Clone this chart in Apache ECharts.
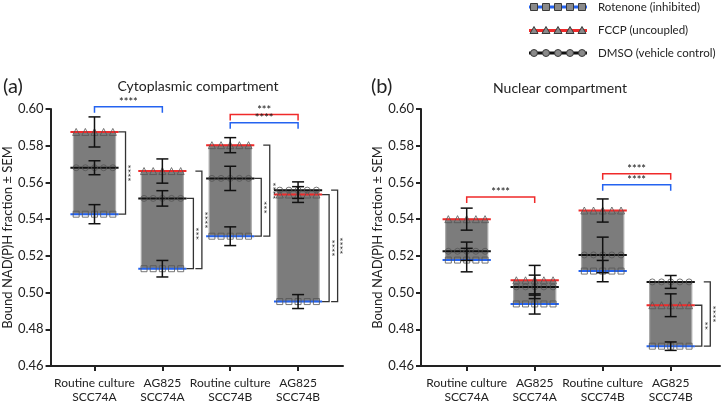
<!DOCTYPE html>
<html><head><meta charset="utf-8">
<script src="https://cdn.jsdelivr.net/npm/echarts@6/dist/echarts.min.js"></script>
<style>html,body{margin:0;padding:0;background:#fff}#c{width:723px;height:404px}</style>
</head><body><div id="c"></div>
<script>
// ---------- data ----------
const categories = ['Routine culture\nSCC74A', 'AG825\nSCC74A', 'Routine culture\nSCC74B', 'AG825\nSCC74B'];
const yTicks = [0.46, 0.48, 0.50, 0.52, 0.54, 0.56, 0.58, 0.60];
const treatmentNames = ['Rotenone (inhibited)', 'FCCP (uncoupled)', 'DMSO (vehicle control)'];
const panelTitles = ['Cytoplasmic compartment', 'Nuclear compartment'];
const panelLetters = ['(a)', '(b)'];
const yAxisName = 'Bound NAD(P)H fraction \u00b1 SEM';

// Cytoplasmic compartment
const cytoRotenone    = [0.5427, 0.5130, 0.5307, 0.4951];
const cytoRotenoneSem = [0.0052, 0.0045, 0.0051, 0.0038];
const cytoFccp        = [0.5875, 0.5662, 0.5803, 0.5534];
const cytoFccpSem     = [0.0082, 0.0066, 0.0041, 0.0043];
const cytoDmso        = [0.5680, 0.5513, 0.5622, 0.5558];
const cytoDmsoSem     = [0.0038, 0.0042, 0.0066, 0.0045];

// Nuclear compartment
const nucRotenone    = [0.5177, 0.4938, 0.5117, 0.4708];
const nucRotenoneSem = [0.0064, 0.0055, 0.0058, 0.0023];
const nucFccp        = [0.5400, 0.5067, 0.5447, 0.4931];
const nucFccpSem     = [0.0060, 0.0081, 0.0063, 0.0062];
const nucDmso        = [0.5225, 0.5031, 0.5205, 0.5058];
const nucDmsoSem     = [0.0050, 0.0064, 0.0097, 0.0035];

// significance between groups: [fromCat, toCat, treatment, label, bracket height]
const cytoPairSig = [[0, 1, 'rot', '****', 0.6012], [2, 3, 'fccp', '***', 0.5970], [2, 3, 'rot', '****', 0.5925]];
const nucPairSig  = [[0, 1, 'fccp', '****', 0.5520], [2, 3, 'fccp', '****', 0.5647], [2, 3, 'rot', '****', 0.5587]];
// significance within group: [cat, fromTreatment, toTreatment, label, nesting level]
const cytoWithinSig = [[0, 'fccp', 'rot', '****', 0], [1, 'dmso', 'rot', '***', 0], [1, 'fccp', 'rot', '****', 1],
                       [2, 'dmso', 'rot', '***', 0], [2, 'fccp', 'rot', '****', 1], [3, 'fccp', 'rot', '****', 0], [3, 'dmso', 'rot', '****', 1]];
const nucWithinSig  = [[3, 'fccp', 'rot', '**', 0], [3, 'dmso', 'rot', '****', 1]];

// ---------- styles ----------
const FONT = 'Lato, "Open Sans", sans-serif';
const COLORS = { rot: '#2463f0', fccp: '#f02a2a', dmso: '#111111' };
const SYMBOLS = { rot: 'rect', fccp: 'triangle', dmso: 'circle' };
const BAR_HALF = 0.31, LINE_HALF = 0.355;
const MARKER_OFFSETS = [-0.27, -0.135, 0, 0.135, 0.27];

const panels = [
  { rot: cytoRotenone, rotSem: cytoRotenoneSem, fccp: cytoFccp, fccpSem: cytoFccpSem, dmso: cytoDmso, dmsoSem: cytoDmsoSem, pair: cytoPairSig, within: cytoWithinSig },
  { rot: nucRotenone, rotSem: nucRotenoneSem, fccp: nucFccp, fccpSem: nucFccpSem, dmso: nucDmso, dmsoSem: nucDmsoSem, pair: nucPairSig, within: nucWithinSig }
];

const grids = [
  { left: 49, right: 380, top: 109, bottom: 35 },
  { left: 421, right: 3, top: 109, bottom: 35 }
];
const xRanges = [[-0.647, 3.662], [-0.672, 3.725]];

const xAxes = [], yAxes = [], series = [];
panels.forEach((p, k) => {
  xAxes.push({
    gridIndex: k, type: 'value', min: xRanges[k][0], max: xRanges[k][1],
    splitLine: { show: false },
    axisLine: { onZero: false, lineStyle: { color: '#222', width: 2 } },
    axisTick: { customValues: [0, 1, 2, 3], length: 5, lineStyle: { color: '#222', width: 2 } },
    axisLabel: { customValues: [0, 1, 2, 3], formatter: v => categories[Math.round(v)], fontFamily: FONT, fontSize: 12, lineHeight: 14, color: '#222', margin: 10 }
  });
  yAxes.push({
    gridIndex: k, type: 'value', min: yTicks[0], max: yTicks[yTicks.length - 1],
    name: yAxisName, nameLocation: 'middle', nameGap: 33,
    nameTextStyle: { fontFamily: FONT, fontSize: 13, color: '#222' },
    splitLine: { show: false },
    axisLine: { show: true, onZero: false, lineStyle: { color: '#222', width: 2 } },
    axisTick: { show: true, customValues: yTicks, length: 5, lineStyle: { color: '#222', width: 2 } },
    axisLabel: { customValues: yTicks, formatter: v => v.toFixed(2), fontFamily: FONT, fontSize: 13, color: '#222', margin: 7 }
  });

  const vals = { rot: p.rot, fccp: p.fccp, dmso: p.dmso };
  const sems = { rot: p.rotSem, fccp: p.fccpSem, dmso: p.dmsoSem };

  // floating grey boxes (range of the three treatments)
  series.push({
    type: 'custom', xAxisIndex: k, yAxisIndex: k, z: 1, silent: true,
    data: categories.map((c, i) => [i, Math.min(p.rot[i], p.fccp[i], p.dmso[i]), Math.max(p.rot[i], p.fccp[i], p.dmso[i])]),
    renderItem(params, api) {
      const x = api.value(0);
      const a = api.coord([x - BAR_HALF, api.value(2)]);
      const b = api.coord([x + BAR_HALF, api.value(1)]);
      return { type: 'rect', shape: { x: a[0], y: a[1], width: b[0] - a[0], height: b[1] - a[1] },
        style: { fill: '#7c7c7c', stroke: '#ababab', lineWidth: 1.2 } };
    }
  });

  ['rot', 'fccp', 'dmso'].forEach((t, ti) => {
    series.push({
      type: 'custom', name: treatmentNames[ti], xAxisIndex: k, yAxisIndex: k, z: 2, silent: true,
      data: vals[t].map((v, i) => [i, v]),
      renderItem(params, api) {
        const x = api.value(0), v = api.value(1);
        const a = api.coord([x - LINE_HALF, v]), b = api.coord([x + LINE_HALF, v]);
        return { type: 'line', shape: { x1: a[0], y1: a[1], x2: b[0], y2: b[1] }, style: { stroke: COLORS[t], lineWidth: 2 } };
      }
    });
    const md = [];
    vals[t].forEach((v, i) => MARKER_OFFSETS.forEach(o => md.push([i + o, v])));
    series.push({
      type: 'scatter', xAxisIndex: k, yAxisIndex: k, z: 3, silent: true,
      symbol: SYMBOLS[t], symbolSize: t === 'fccp' ? 7 : 6,
      itemStyle: { color: 'rgba(0,0,0,0)', borderColor: '#555', borderWidth: 1 },
      data: md
    });
  });

  const ed = [];
  ['rot', 'fccp', 'dmso'].forEach(t => vals[t].forEach((v, i) => ed.push([i, v, sems[t][i]])));
  series.push({
    type: 'custom', xAxisIndex: k, yAxisIndex: k, z: 4, silent: true,
    data: ed,
    renderItem(params, api) {
      const x = api.value(0), v = api.value(1), s = api.value(2);
      const top = api.coord([x, v + s]), bot = api.coord([x, v - s]);
      const st = { stroke: '#111', lineWidth: 1.5 };
      return { type: 'group', children: [
        { type: 'line', shape: { x1: top[0], y1: top[1], x2: bot[0], y2: bot[1] }, style: st },
        { type: 'line', shape: { x1: top[0] - 6, y1: top[1], x2: top[0] + 6, y2: top[1] }, style: st },
        { type: 'line', shape: { x1: bot[0] - 6, y1: bot[1], x2: bot[0] + 6, y2: bot[1] }, style: st }
      ] };
    }
  });

  series.push({
    type: 'custom', xAxisIndex: k, yAxisIndex: k, z: 5, silent: true, clip: false,
    data: p.pair.map(d => [d[0], d[1], d[4]]),
    renderItem(params, api) {
      const d = p.pair[params.dataIndex];
      const a = api.coord([api.value(0), api.value(2)]), b = api.coord([api.value(1), api.value(2)]);
      const st = { stroke: COLORS[d[2]], lineWidth: 1.5, fill: null };
      return { type: 'group', children: [
        { type: 'polyline', shape: { points: [[a[0], a[1] + 6], [a[0], a[1]], [b[0], b[1]], [b[0], b[1] + 6]] }, style: st },
        { type: 'text', x: (a[0] + b[0]) / 2, y: a[1] + 1, style: { text: d[3], fill: '#111', font: '11px ' + FONT, align: 'center', verticalAlign: 'bottom' } }
      ] };
    }
  });

  series.push({
    type: 'custom', xAxisIndex: k, yAxisIndex: k, z: 5, silent: true, clip: false,
    data: p.within.map(d => [d[0], vals[d[1]][d[0]], vals[d[2]][d[0]]]),
    renderItem(params, api) {
      const d = p.within[params.dataIndex];
      const x = api.value(0);
      const t1 = api.coord([x + BAR_HALF, api.value(1)]);
      const t2 = api.coord([x + BAR_HALF, api.value(2)]);
      const barRight = t1[0];
      const lx = barRight + (d[4] === 0 ? 10 : 18.5);
      const sx = barRight + (d[4] === 0 ? 3 : 12);
      const st = { stroke: '#333', lineWidth: 1.3, fill: null };
      return { type: 'group', children: [
        { type: 'polyline', shape: { points: [[sx, t1[1]], [lx, t1[1]], [lx, t2[1]], [sx, t2[1]]] }, style: st },
        { type: 'text', x: lx + 2, y: (t1[1] + t2[1]) / 2, rotation: -Math.PI / 2,
          style: { text: d[3], fill: '#111', font: '10px ' + FONT, align: 'center', verticalAlign: 'middle' } }
      ] };
    }
  });
});

// ---------- legend & titles as graphics ----------
const graphic = [];
const legendRows = [['rot', 7], ['fccp', 30.5], ['dmso', 53]];
legendRows.forEach(([t, y], ti) => {
  graphic.push({ type: 'line', shape: { x1: 529, y1: y, x2: 587, y2: y }, style: { stroke: COLORS[t], lineWidth: 3 } });
  for (let j = 0; j < 5; j++) {
    const cx = 534 + j * 12;
    const ms = { fill: '#8a8a8a', stroke: '#3a3a3a', lineWidth: 1 };
    if (t === 'rot') graphic.push({ type: 'rect', shape: { x: cx - 3.5, y: y - 3.5, width: 7, height: 7 }, style: ms });
    else if (t === 'fccp') graphic.push({ type: 'polygon', shape: { points: [[cx, y - 4], [cx + 4, y + 3], [cx - 4, y + 3]] }, style: ms });
    else graphic.push({ type: 'circle', shape: { cx: cx, cy: y, r: 3.5 }, style: ms });
  }
  graphic.push({ type: 'text', x: 598, y: y, style: { text: treatmentNames[ti], fill: '#222', font: '11.5px ' + FONT, verticalAlign: 'middle' } });
});
graphic.push({ type: 'text', x: 3, y: 87, style: { text: panelLetters[0], fill: '#222', font: '20px ' + FONT, verticalAlign: 'middle' } });
graphic.push({ type: 'text', x: 371, y: 87, style: { text: panelLetters[1], fill: '#222', font: '20px ' + FONT, verticalAlign: 'middle' } });
graphic.push({ type: 'text', x: 198, y: 86, style: { text: panelTitles[0], fill: '#222', font: '14px ' + FONT, align: 'center', verticalAlign: 'middle' } });
graphic.push({ type: 'text', x: 560, y: 88, style: { text: panelTitles[1], fill: '#222', font: '14px ' + FONT, align: 'center', verticalAlign: 'middle' } });

const chart = echarts.init(document.getElementById('c'), null, { renderer: 'canvas' });
chart.setOption({
  animation: false,
  backgroundColor: '#fff',
  grid: grids,
  xAxis: xAxes,
  yAxis: yAxes,
  series: series,
  graphic: graphic
});
</script></body></html>
